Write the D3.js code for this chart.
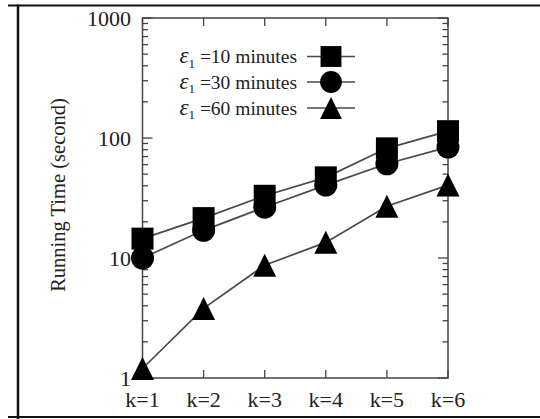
<!DOCTYPE html>
<html><head><meta charset="utf-8">
<script src="https://cdn.jsdelivr.net/npm/d3@7"></script>
<style>
html,body{margin:0;padding:0;background:#fff;}
svg{display:block;}
text{font-family:"Liberation Serif","Times New Roman",serif;fill:#222;}
</style></head>
<body><svg id="c" width="540" height="419"></svg>
<script>
const categories = ["k=1","k=2","k=3","k=4","k=5","k=6"];
const eps10 = [14.5, 21.5, 33, 47, 82, 114];
const eps30 = [10, 17, 26.5, 40.5, 61, 84];
const eps60 = [1.2, 3.8, 8.7, 13.5, 27, 40.5];
const yTicks = [1, 10, 100, 1000];
const seriesNames = ["10 minutes", "30 minutes", "60 minutes"];
const yLabel = "Running Time (second)";

const svg = d3.select("#c");
const L = 142.5, R = 448, T = 18, B = 378;
const x = d3.scalePoint().domain(categories).range([L, R]);
const y = d3.scaleLog().domain([1, 1000]).range([B, T]);

// outer frame (table borders)
svg.append("line").attr("x1", 8).attr("x2", 540).attr("y1", 5.5).attr("y2", 5.5).attr("stroke", "#111").attr("stroke-width", 2);
svg.append("line").attr("x1", 8).attr("x2", 540).attr("y1", 417).attr("y2", 417).attr("stroke", "#111").attr("stroke-width", 2);
svg.append("line").attr("x1", 18).attr("x2", 18).attr("y1", 4.5).attr("y2", 419).attr("stroke", "#111").attr("stroke-width", 2.5);

const axisColor = "#444";
const minor = [];
for (let d = 1; d < 1000; d *= 10) for (let m = 2; m <= 9; m++) minor.push(d * m);
const gt = svg.append("g").attr("stroke", axisColor).attr("stroke-width", 1.3);
minor.forEach(v => {
  gt.append("line").attr("x1", L).attr("x2", L + 5.5).attr("y1", y(v)).attr("y2", y(v));
  gt.append("line").attr("x1", R).attr("x2", R - 5.5).attr("y1", y(v)).attr("y2", y(v));
});
yTicks.forEach(v => {
  gt.append("line").attr("x1", L).attr("x2", L + 10).attr("y1", y(v)).attr("y2", y(v));
  gt.append("line").attr("x1", R).attr("x2", R - 10).attr("y1", y(v)).attr("y2", y(v));
});
categories.forEach(c => {
  gt.append("line").attr("x1", x(c)).attr("x2", x(c)).attr("y1", B).attr("y2", B - 8);
  gt.append("line").attr("x1", x(c)).attr("x2", x(c)).attr("y1", T).attr("y2", T + 8);
});
svg.append("rect").attr("x", L).attr("y", T).attr("width", R - L).attr("height", B - T)
  .attr("fill", "none").attr("stroke", axisColor).attr("stroke-width", 1.5);

// tick labels
svg.selectAll(".yl").data(yTicks).enter().append("text")
  .attr("x", 131).attr("y", d => y(d)).attr("dy", "0.35em")
  .attr("text-anchor", "end").attr("font-size", 22).text(d => d);
svg.selectAll(".xl").data(categories).enter().append("text")
  .attr("x", d => x(d)).attr("y", 407)
  .attr("text-anchor", "middle").attr("font-size", 22).text(d => d);
svg.append("text").attr("transform", "translate(65,195) rotate(-90)")
  .attr("text-anchor", "middle").attr("font-size", 20.5).text(yLabel);

// symbols
const triangle = { draw(ctx, size) { const h = Math.sqrt(size) / 2; ctx.moveTo(0, -h); ctx.lineTo(h, h); ctx.lineTo(-h, h); ctx.closePath(); } };
const square = { draw(ctx, size) { const h = Math.sqrt(size) / 2; ctx.rect(-h, -h, 2 * h, 2 * h); } };
const series = [
  { vals: eps10, type: square, size: 22 * 22 },
  { vals: eps30, type: d3.symbolCircle, size: Math.PI * 11.5 * 11.5 },
  { vals: eps60, type: triangle, size: 23 * 23 }
];
const line = d3.line().x((d, i) => x(categories[i])).y(d => y(d));
series.forEach(s => {
  svg.append("path").attr("d", line(s.vals)).attr("fill", "none").attr("stroke", "#4a4a4a").attr("stroke-width", 1.7);
});
series.forEach(s => {
  svg.append("g").selectAll("path").data(s.vals).enter().append("path")
    .attr("transform", (d, i) => `translate(${x(categories[i])},${y(d)})`)
    .attr("d", d3.symbol().type(s.type).size(s.size)).attr("fill", "#000");
});

// legend
const legY = [56.5, 82, 108];
series.forEach((s, i) => {
  const t = svg.append("text").attr("x", 297).attr("y", legY[i]).attr("dy", "0.35em")
    .attr("text-anchor", "end").attr("font-size", 19.5);
  t.append("tspan").attr("font-style", "italic").attr("font-size", 23).text("ε");
  t.append("tspan").attr("font-size", 13).attr("dy", "0.35em").text("1");
  t.append("tspan").attr("dy", "-0.25em").text(" =" + seriesNames[i]);
  svg.append("line").attr("x1", 307).attr("x2", 355).attr("y1", legY[i]).attr("y2", legY[i])
    .attr("stroke", "#4a4a4a").attr("stroke-width", 1.7);
  svg.append("path").attr("transform", `translate(331,${legY[i]})`)
    .attr("d", d3.symbol().type(s.type).size(s.size * 0.9)).attr("fill", "#000");
});
</script></body></html>
